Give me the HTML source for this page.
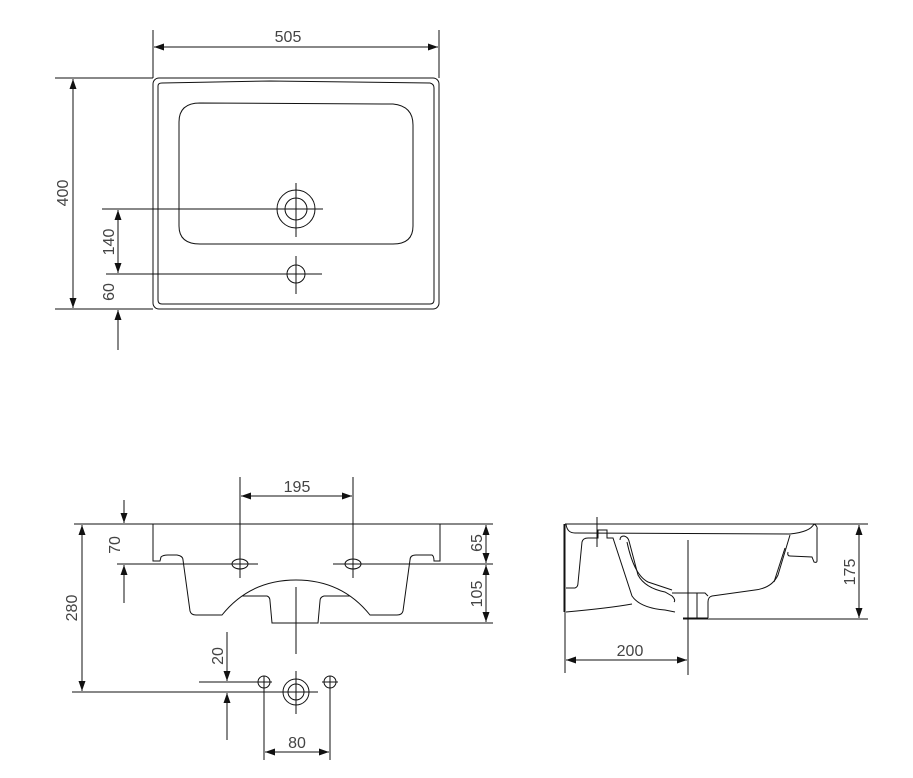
<!DOCTYPE html>
<html><head><meta charset="utf-8"><style>
html,body{margin:0;padding:0;background:#fff}
svg{display:block}
text{font-family:"Liberation Sans",sans-serif;font-size:16px;fill:#444}
</style></head><body>
<svg width="913" height="778" viewBox="0 0 913 778" xmlns="http://www.w3.org/2000/svg">
<defs>
<marker id="a" viewBox="0 0 10 10" refX="10" refY="5" markerWidth="10" markerHeight="10" orient="auto-start-reverse" markerUnits="userSpaceOnUse"><path d="M0,1.5 L10,5 L0,8.5 Z" fill="#111"/></marker>
</defs>
<g stroke="#111" stroke-width="1" fill="none">
<!-- TOP VIEW -->
<rect x="153" y="78" width="286" height="231" rx="6"/>
<path d="M158,86 Q158,83 162,83 L270,81 L430,83 Q434,84 434,88 L434,300 Q434,304 430,304 L162,304 Q158,304 158,300 Z"/>
<path d="M200,103 L393,104 Q413,106 413,125 L413,226 Q413,244 393,244 L200,244 Q179,244 179,226 L179,122 Q179,103 200,103 Z"/>
<circle cx="296" cy="209" r="19"/><circle cx="296" cy="209" r="11"/>
<line x1="102" y1="209" x2="323" y2="209"/><line x1="296" y1="183" x2="296" y2="237"/>
<circle cx="296" cy="274" r="9"/>
<line x1="106" y1="274" x2="322" y2="274"/><line x1="296" y1="256" x2="296" y2="294"/>
<line x1="153" y1="30" x2="153" y2="78"/><line x1="439" y1="30" x2="439" y2="78"/>
<line x1="154" y1="47" x2="438" y2="47" marker-start="url(#a)" marker-end="url(#a)"/>
<line x1="55" y1="78" x2="153" y2="78"/><line x1="55" y1="309" x2="153" y2="309"/>
<line x1="73" y1="79" x2="73" y2="308" marker-start="url(#a)" marker-end="url(#a)"/>
<line x1="118" y1="210" x2="118" y2="273" marker-start="url(#a)" marker-end="url(#a)"/>
<line x1="118" y1="350" x2="118" y2="310" marker-end="url(#a)"/>
<!-- FRONT VIEW -->
<line x1="74" y1="524" x2="493" y2="524"/>
<path d="M153,524 L153,561 L160,561 L161,557 Q163,555 168,555 L177,555 Q183,556 183,560 L190,611 Q191,615 196,615 L222,615 Q250,580 296,580 Q342,580 370,615 L397,615 Q402,615 403,611 L410,560 Q410,555 416,555 L432,555 Q434,556 434,561 L440,561 L440,524"/>
<path d="M242,596 L267,596 Q270,597 270,601 L272,623 L318,623 L320,601 Q320,597 324,596 L350,596"/>
<ellipse cx="240" cy="564" rx="8" ry="5"/><ellipse cx="353" cy="564" rx="8" ry="5"/>
<line x1="117" y1="564" x2="258" y2="564"/><line x1="333" y1="564" x2="493" y2="564"/>
<line x1="240" y1="477" x2="240" y2="578"/><line x1="353" y1="477" x2="353" y2="578"/>
<line x1="241" y1="496" x2="352" y2="496" marker-start="url(#a)" marker-end="url(#a)"/>
<line x1="124" y1="500" x2="124" y2="523" marker-end="url(#a)"/>
<line x1="124" y1="603" x2="124" y2="565" marker-end="url(#a)"/>
<line x1="82" y1="525" x2="82" y2="691" marker-start="url(#a)" marker-end="url(#a)"/>
<line x1="72" y1="692" x2="318" y2="692"/>
<line x1="320" y1="623" x2="493" y2="623"/>
<line x1="486" y1="525" x2="486" y2="563" marker-start="url(#a)" marker-end="url(#a)"/>
<line x1="486" y1="565" x2="486" y2="622" marker-start="url(#a)" marker-end="url(#a)"/>
<line x1="296" y1="587" x2="296" y2="654"/>
<circle cx="264" cy="682" r="6"/><circle cx="330" cy="682" r="6"/>
<circle cx="296" cy="692" r="13"/><circle cx="296" cy="692" r="8"/>
<line x1="199" y1="682" x2="272" y2="682"/><line x1="322" y1="682" x2="338" y2="682"/>
<line x1="296" y1="671" x2="296" y2="714"/>
<line x1="227" y1="632" x2="227" y2="681" marker-end="url(#a)"/>
<line x1="227" y1="740" x2="227" y2="693" marker-end="url(#a)"/>
<line x1="264" y1="676" x2="264" y2="760"/><line x1="330" y1="676" x2="330" y2="760"/>
<line x1="265" y1="752" x2="329" y2="752" marker-start="url(#a)" marker-end="url(#a)"/>
<!-- SIDE VIEW -->
<line x1="565" y1="524" x2="868" y2="524"/>
<line x1="683" y1="619" x2="868" y2="619"/>
<path d="M566,524 Q567,533 575,533 L790,534 Q810,532 814,524"/>
<path d="M814,524 Q818,526 817,530 L817,561 Q817,563 814,562 L812,557 L790,556 Q787,556 788,552"/>
<path d="M790,535 L778,575 Q772,588 755,590 L712,596 Q708,597 708,602 L708,618"/>
<path d="M785,548 L774,582"/>
<line x1="564" y1="524" x2="564" y2="612"/>
<path d="M566,588 L575,588 Q578,587 578,583 L582,542 Q583,538 588,538 L598,538 L598,530 L607,530 L607,538 L613,538 L632,596 Q640,608 665,610 L675,612"/>
<path d="M620,540 Q620,536 624,536 Q628,537 629,541 L638,575 Q645,588 665,592 L672,596 Q676,600 674,602"/>
<path d="M627,542 Q634,575 648,582 L672,590"/>
<path d="M566,612 Q610,608 632,604"/>
<path d="M672,593 L705,593 L708,596"/>
<line x1="697" y1="593" x2="697" y2="618"/><line x1="683" y1="618" x2="708" y2="618"/>
<line x1="597" y1="517" x2="597" y2="547"/>
<line x1="688" y1="540" x2="688" y2="675"/>
<line x1="565" y1="524" x2="565" y2="673"/>
<line x1="566" y1="660" x2="687" y2="660" marker-start="url(#a)" marker-end="url(#a)"/>
<line x1="859" y1="525" x2="859" y2="618" marker-start="url(#a)" marker-end="url(#a)"/>
</g>
<text x="288" y="42" text-anchor="middle">505</text>
<text transform="translate(68,193) rotate(-90)" text-anchor="middle">400</text>
<text transform="translate(114,242) rotate(-90)" text-anchor="middle">140</text>
<text transform="translate(114,292) rotate(-90)" text-anchor="middle">60</text>
<text x="297" y="492" text-anchor="middle">195</text>
<text transform="translate(120,545) rotate(-90)" text-anchor="middle">70</text>
<text transform="translate(77,608) rotate(-90)" text-anchor="middle">280</text>
<text transform="translate(482,543) rotate(-90)" text-anchor="middle">65</text>
<text transform="translate(482,594) rotate(-90)" text-anchor="middle">105</text>
<text transform="translate(223,656) rotate(-90)" text-anchor="middle">20</text>
<text x="297" y="748" text-anchor="middle">80</text>
<text x="630" y="656" text-anchor="middle">200</text>
<text transform="translate(855,572) rotate(-90)" text-anchor="middle">175</text>
</svg>
</body></html>
